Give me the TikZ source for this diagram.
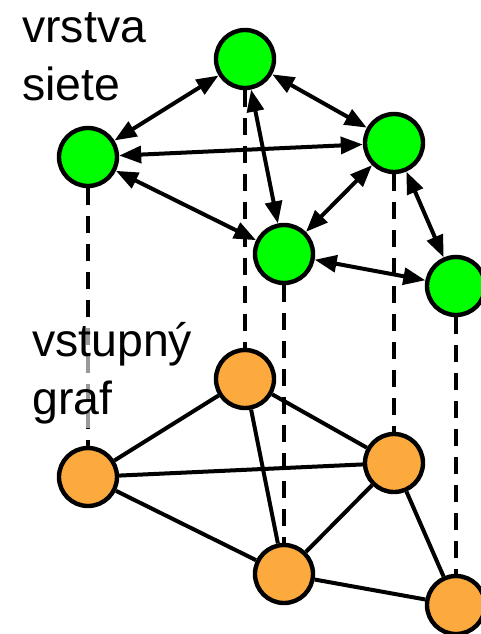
\documentclass[tikz,border=0pt]{standalone}
\usepackage{fontspec}
\setmainfont{Liberation Sans}
\usetikzlibrary{arrows.meta}
\definecolor{sietzelena}{RGB}{0,255,0}
\definecolor{graforanzova}{RGB}{252,170,62}

\begin{document}
\begin{tikzpicture}[x=0.025cm,y=-0.025cm,
    vrchol/.style={circle,draw,line width=0.11cm,minimum size=1.45cm,inner sep=0pt},
    siet/.style={vrchol,fill=sietzelena},
    graf/.style={vrchol,fill=graforanzova},
    hrana/.style={line width=0.1cm},
    sipka/.style={hrana,{Triangle[length=0.55cm,width=0.42cm]}-{Triangle[length=0.55cm,width=0.42cm]}},
    spoj/.style={line width=0.1cm,dash pattern=on 0.42cm off 0.28cm},
    popis/.style={align=left,inner sep=0.1cm,font=\fontsize{33}{41}\selectfont}]
  \useasboundingbox (0,0) rectangle (481,634);
  % vrstva siete
  \node[siet] (g1) at (245,59) {};
  \node[siet] (g2) at (88,157) {};
  \node[siet] (g3) at (394,143) {};
  \node[siet] (g4) at (284,254) {};
  \node[siet] (g5) at (456,286) {};
  % vstupny graf
  \node[graf] (o1) at (245,379) {};
  \node[graf] (o2) at (88,477) {};
  \node[graf] (o3) at (394,463) {};
  \node[graf] (o4) at (284,574) {};
  \node[graf] (o5) at (456,605) {};
  % zvisle spojnice
  \foreach \i in {1,...,5}
    \draw[spoj] (g\i) -- (o\i);
  \node[popis,anchor=base west] (nsiet) at (18,100) {vrstva\\siete};
  \node[popis,anchor=base west,fill=white,fill opacity=0.6,text opacity=1]
    (ngraf) at (28,414) {vstupný\\graf};
  % hrany
  \foreach \a/\b in {1/2,1/3,1/4,2/3,2/4,3/4,3/5,4/5} {
    \draw[sipka] (g\a) -- (g\b);
    \draw[hrana] (o\a) -- (o\b);
  }
\end{tikzpicture}
\end{document}
